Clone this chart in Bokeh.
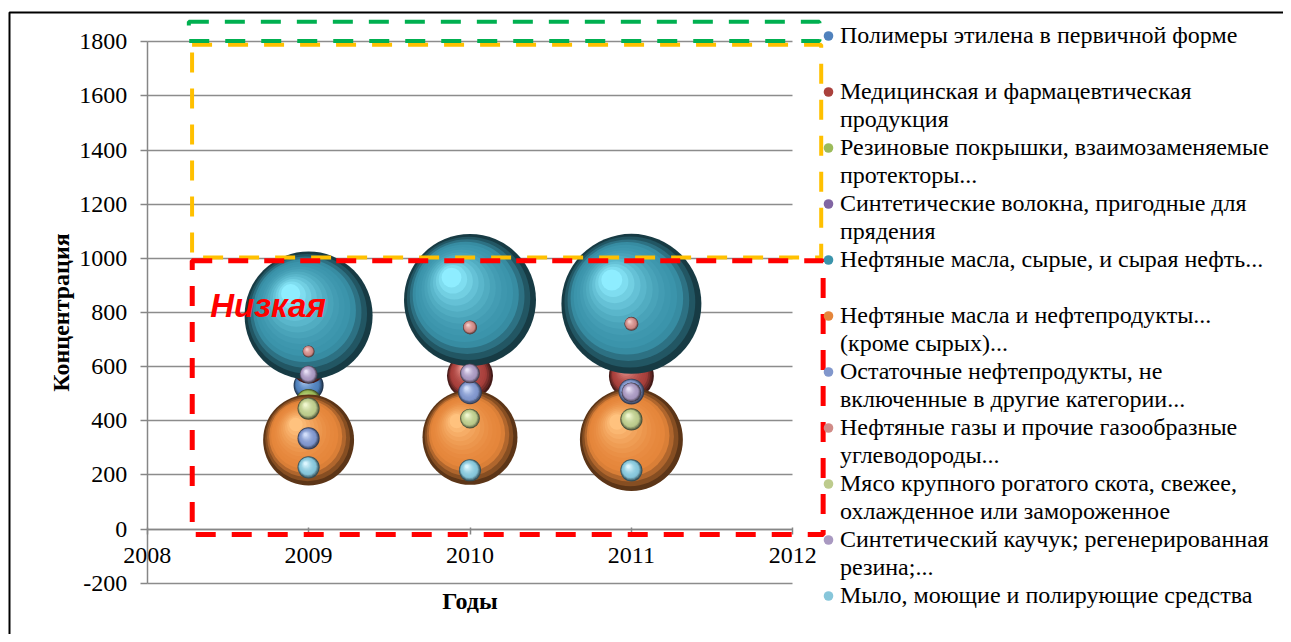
import math
from bokeh.plotting import figure
from bokeh.models import (Range1d, FixedTicker, Legend, LegendItem, Label,
                          BoxAnnotation, ColumnDataSource)
from bokeh.embed import file_html
from bokeh.resources import INLINE

# ---------------- data ----------------
years = [2009, 2010, 2011]
x_ticks = [2008, 2009, 2010, 2011, 2012]
x_tick_labels = ["2008", "2009", "2010", "2011", "2012"]
y_ticks = [-200, 0, 200, 400, 600, 800, 1000, 1200, 1400, 1600, 1800]
y_tick_labels = ["-200", "0", "200", "400", "600", "800", "1000", "1200", "1400", "1600", "1800"]

# legend names: (first line, second line or None)
series_names = [
    ("Полимеры этилена в первичной форме", ""),
    ("Медицинская и фармацевтическая", "продукция"),
    ("Резиновые покрышки, взаимозаменяемые", "протекторы..."),
    ("Синтетические волокна, пригодные для", "прядения"),
    ("Нефтяные масла, сырые, и сырая нефть...", ""),
    ("Нефтяные масла и нефтепродукты...", "(кроме сырых)..."),
    ("Остаточные нефтепродукты, не", "включенные в другие категории..."),
    ("Нефтяные газы и прочие газообразные", "углеводороды..."),
    ("Мясо крупного рогатого скота, свежее,", "охлажденное или замороженное"),
    ("Синтетический каучук; регенерированная", "резина;..."),
    ("Мыло, моющие и полирующие средства", None),
]

# concentration (y) per year
y_polymers = [530, 535, 540]
y_pharma = [600, 566, 565]
y_tyres = [470, 460, 460]
y_fibres = [620, 640, 640]
y_crude = [789, 846, 832]
y_products = [329, 339, 331]
y_residual = [335, 505, 508]
y_gases = [656, 745, 758]
y_beef = [445, 408, 405]
y_rubber = [571, 575, 505]
y_soap = [228, 217, 217]

# bubble size values
s_polymers = [4.6, 4.6, 4.6]
s_pharma = [5.9, 10.8, 10.3]
s_tyres = [3.4, 3.4, 3.4]
s_fibres = [1.5, 1.5, 1.5]
s_crude = [83.6, 88.9, 100.0]
s_products = [42.2, 46.0, 54.1]
s_residual = [2.5, 2.9, 3.4]
s_gases = [0.73, 1.0, 1.0]
s_beef = [2.5, 2.0, 2.5]
s_rubber = [1.65, 2.0, 2.0]
s_soap = [2.5, 2.5, 2.5]

ys_all = [y_polymers, y_pharma, y_tyres, y_fibres, y_crude, y_products,
          y_residual, y_gases, y_beef, y_rubber, y_soap]
ss_all = [s_polymers, s_pharma, s_tyres, s_fibres, s_crude, s_products,
          s_residual, s_gases, s_beef, s_rubber, s_soap]

# ---------------- styles ----------------
base_colors = ["#4F81BD", "#A9403C", "#9BBB59", "#8064A2", "#3A93AA", "#E5853A",
               "#8096CC", "#D08A86", "#BCCB8C", "#A898C0", "#86C6DA"]
light_colors = ["#A9C6EE", "#E8948E", "#D6EBA0", "#C6B4E0", "#8EEDFF", "#FFC27E",
                "#D2DEFA", "#F5CDCA", "#F0F7CF", "#E8E0F5", "#DCF6FF"]


def hex2rgb(h):
    h = h.lstrip("#")
    return [int(h[i:i + 2], 16) for i in (0, 2, 4)]


def mix(c1, c2, t):
    a, b = hex2rgb(c1), hex2rgb(c2)
    return "#%02x%02x%02x" % tuple(int(round(a[i] + (b[i] - a[i]) * t)) for i in range(3))


def shade(base, light, t):
    dark = mix(base, "#000000", 0.6)
    if t < 0.25:
        return mix(dark, base, t / 0.25)
    return mix(base, light, ((t - 0.25) / 0.75) ** 1.8)


W, H = 1283, 634
# pixel positions of the plot area (axes box) inside the canvas
AX_L, AX_R, AX_T, AX_B = 146.7, 792.3, 41.3, 582.7
X0, X1, Y0, Y1 = 2008, 2012, -200, 1800
PPX = (AX_R - AX_L) / (X1 - X0)
PPY = (AX_B - AX_T) / (Y1 - Y0)
R_MAX = 70.0     # px radius for size value 100
S_MAX = 100.0
SERIF = "Liberation Serif"

x_range = Range1d(X0 - AX_L / PPX, X1 + (W - AX_R) / PPX)
y_range = Range1d(Y0 - (H - AX_B) / PPY, Y1 + AX_T / PPY)

p = figure(width=W, height=H, x_range=x_range, y_range=y_range,
           output_backend="svg", toolbar_location=None,
           min_border_left=0, min_border_right=0, min_border_top=0, min_border_bottom=0)
p.outline_line_color = None
p.background_fill_color = "white"
p.border_fill_color = "white"

# axes
p.xaxis.ticker = FixedTicker(ticks=x_ticks)
p.xaxis.major_label_overrides = {t: l for t, l in zip(x_ticks, x_tick_labels)}
p.xaxis.fixed_location = 0
p.xaxis.bounds = (X0, X1)
p.yaxis.ticker = FixedTicker(ticks=y_ticks)
p.yaxis.major_label_overrides = {t: l for t, l in zip(y_ticks, y_tick_labels)}
p.yaxis.fixed_location = X0
p.yaxis.bounds = (Y0, Y1)
for ax in (p.xaxis, p.yaxis):
    ax.axis_line_color = "#868686"
    ax.axis_line_width = 1.5
    ax.major_tick_line_color = "#868686"
    ax.major_tick_line_width = 1.5
    ax.minor_tick_line_color = None
    ax.major_label_text_font = SERIF
    ax.major_label_text_font_size = "24px"
    ax.major_label_text_color = "black"
    ax.axis_label_text_font = SERIF
    ax.axis_label_text_font_size = "24px"
    ax.axis_label_text_font_style = "bold"
    ax.axis_label_text_color = "black"
p.yaxis.major_tick_out = 7
p.yaxis.major_tick_in = 0
p.yaxis.major_label_standoff = 13
p.yaxis.axis_label = "Концентрация"
p.yaxis.axis_label_standoff = 3
p.xaxis.major_tick_out = 5
p.xaxis.major_tick_in = 2
p.xaxis.major_label_standoff = 14
p.xaxis.axis_label = "Годы"
p.xaxis.axis_label_standoff = 21

p.xgrid.visible = False
grid = p.ygrid[0]
grid.ticker = FixedTicker(ticks=y_ticks)
grid.grid_line_color = "#8c8c8c"
grid.grid_line_width = 1.5
if "cross_bounds" in grid.properties():
    grid.cross_bounds = (X0, X1)
else:
    grid.visible = False
    p.segment(x0=[X0] * len(y_ticks), x1=[X1] * len(y_ticks), y0=y_ticks, y1=y_ticks,
              line_color="#8c8c8c", line_width=1.5, level="underlay")

# bubbles with layered shading
N = 14
legend_items = []
blank = p.scatter(x=[X0], y=[Y0], size=1, fill_alpha=0, line_alpha=0)
for i, (ys, ss) in enumerate(zip(ys_all, ss_all)):
    radii = [R_MAX * math.sqrt(s / S_MAX) for s in ss]
    leg_r = None
    for k in range(N):
        t = k / (N - 1)
        xs = [x + (-0.28 * r * t) / PPX for x, r in zip(years, radii)]
        yy = [y + (0.34 * r * t) / PPY for y, r in zip(ys, radii)]
        sz = [2 * r * (1 - 0.85 * t) for r in radii]
        src = ColumnDataSource(dict(x=xs, y=yy, size=sz))
        rr = p.scatter("x", "y", size="size", source=src, marker="circle",
                       fill_color=shade(base_colors[i], light_colors[i], t),
                       line_color=None)
        if k == 4:
            leg_r = rr
    first, second = series_names[i]
    legend_items.append(LegendItem(label=first, renderers=[leg_r]))
    if second is not None:
        legend_items.append(LegendItem(label=second if second else "\u00a0",
                                       renderers=[blank]))

legend = Legend(items=legend_items, location=(816, 25),
                label_text_font=SERIF, label_text_font_size="24px",
                label_text_line_height=1.156,
                label_text_color="black",
                glyph_width=24, glyph_height=27, label_standoff=0,
                spacing=0, padding=0, margin=0, label_height=28,
                border_line_color=None, background_fill_alpha=0)
p.add_layout(legend)

# dashed zone frames
p.add_layout(BoxAnnotation(left=2008.278, right=2012.176, top=1789, bottom=1003,
                           fill_color=None, line_color="#FFC000", line_alpha=1,
                           line_width=4, line_dash="20 16", level="overlay"))
p.add_layout(BoxAnnotation(left=2008.258, right=2012.165, top=1874, bottom=1803,
                           fill_color=None, line_color="#00B050", line_alpha=1,
                           line_width=4, line_dash="20 16", level="overlay"))
p.add_layout(BoxAnnotation(left=2008.279, right=2012.188, top=991, bottom=-20,
                           fill_color=None, line_color="#FF0000", line_alpha=1,
                           line_width=5, line_dash="20 16", level="overlay"))

p.add_layout(Label(x=2008.39, y=826, text="Низкая", text_font="Liberation Sans",
                   text_font_style="bold italic", text_font_size="33px",
                   text_color="#FF0000", text_baseline="alphabetic"))

# chart border
p.add_layout(BoxAnnotation(left=9, right=W + 20, top=12, bottom=H + 20,
                           left_units="canvas", right_units="canvas",
                           top_units="canvas", bottom_units="canvas",
                           fill_color=None, line_color="black", line_alpha=1,
                           line_width=2, level="overlay"))

open("out.html", "w").write(file_html(p, INLINE))
